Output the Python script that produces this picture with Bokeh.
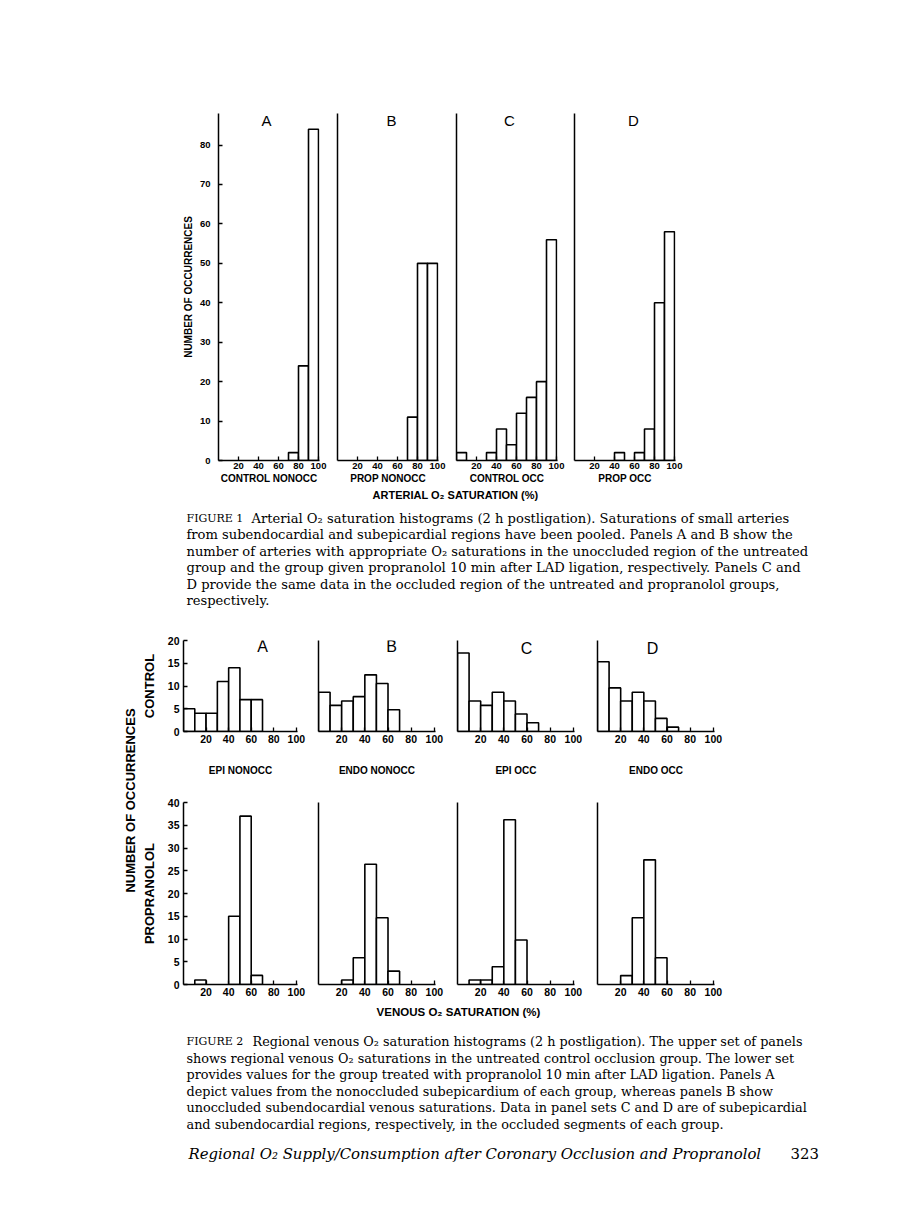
from bokeh.plotting import figure
from bokeh.layouts import column, row
from bokeh.models import Range1d, FixedTicker, Spacer
from bokeh.core.properties import value
from bokeh.embed import file_html
from bokeh.resources import INLINE

SANS = "Liberation Sans"
SERIF = "DejaVu Serif"

# ---------------- data ----------------
bin_left = [0, 10, 20, 30, 40, 50, 60, 70, 80, 90]
bin_right = [10, 20, 30, 40, 50, 60, 70, 80, 90, 100]
x_ticks = [20, 40, 60, 80, 100]

fig1_letters = ["A", "B", "C", "D"]
fig1_groups = ["CONTROL NONOCC", "PROP NONOCC", "CONTROL OCC", "PROP OCC"]
fig1_control_nonocc = [0, 0, 0, 0, 0, 0, 0, 2, 24, 84]
fig1_prop_nonocc = [0, 0, 0, 0, 0, 0, 0, 11, 50, 50]
fig1_control_occ = [2, 0, 0, 2, 8, 4, 12, 16, 20, 56]
fig1_prop_occ = [0, 0, 0, 0, 2, 0, 2, 8, 40, 58]
fig1_y_ticks = [0, 10, 20, 30, 40, 50, 60, 70, 80]

fig2_letters = ["A", "B", "C", "D"]
fig2_regions = ["EPI NONOCC", "ENDO NONOCC", "EPI OCC", "ENDO OCC"]
fig2_control_epi_nonocc = [5, 4, 4, 11, 14, 7, 7, 0, 0, 0]
fig2_control_endo_nonocc = [9, 6, 7, 8, 13, 11, 5, 0, 0, 0]
fig2_control_epi_occ = [18, 7, 6, 9, 7, 4, 2, 0, 0, 0]
fig2_control_endo_occ = [16, 10, 7, 9, 7, 3, 1, 0, 0, 0]
fig2_prop_epi_nonocc = [0, 1, 0, 0, 15, 37, 2, 0, 0, 0]
fig2_prop_endo_nonocc = [0, 0, 1, 6, 27, 15, 3, 0, 0, 0]
fig2_prop_epi_occ = [0, 1, 1, 4, 37, 10, 0, 0, 0, 0]
fig2_prop_endo_occ = [0, 0, 2, 15, 28, 6, 0, 0, 0, 0]
fig2_control_y_ticks = [0, 5, 10, 15, 20]
fig2_prop_y_ticks = [0, 5, 10, 15, 20, 25, 30, 35, 40]

caption1 = [
    "Arterial O\u2082 saturation histograms (2 h postligation). Saturations of small arteries",
    "from subendocardial and subepicardial regions have been pooled. Panels A and B show the",
    "number of arteries with appropriate O\u2082 saturations in the unoccluded region of the untreated",
    "group and the group given propranolol 10 min after LAD ligation, respectively. Panels C and",
    "D provide the same data in the occluded region of the untreated and propranolol groups,",
    "respectively.",
]
caption2 = [
    "Regional venous O\u2082 saturation histograms (2 h postligation). The upper set of panels",
    "shows regional venous O\u2082 saturations in the untreated control occlusion group. The lower set",
    "provides values for the group treated with propranolol 10 min after LAD ligation. Panels A",
    "depict values from the nonoccluded subepicardium of each group, whereas panels B show",
    "unoccluded subendocardial venous saturations. Data in panel sets C and D are of subepicardial",
    "and subendocardial regions, respectively, in the occluded segments of each group.",
]
footer_text = "Regional O\u2082 Supply/Consumption after Coronary Occlusion and Propranolol"
page_number = "323"


# ---------------- helpers ----------------
def panel(counts, width, height, bl, br, bt, bb, y_end, x_end=101,
          y_ticks=None, y_label=None, x_label=None,
          tick_size="9px", xlabel_size="9.5px", ylabel_size="9.5px",
          x_tick_standoff=2, x_label_standoff=1,
          y_tick_standoff=9, y_label_standoff=3,
          letter=None, letter_xy=(50, 50), letter_size="15px"):
    p = figure(width=width, height=height,
               x_range=Range1d(0, x_end), y_range=Range1d(0, y_end),
               min_border_left=bl, min_border_right=br,
               min_border_top=bt, min_border_bottom=bb,
               toolbar_location=None, output_backend="svg", title=None)
    p.grid.visible = False
    p.outline_line_color = None
    p.background_fill_color = "white"
    p.border_fill_color = "white"

    left = [l for l, c in zip(bin_left, counts) if c > 0]
    right = [r for r, c in zip(bin_right, counts) if c > 0]
    top = [c for c in counts if c > 0]
    p.quad(left=left, right=right, bottom=0, top=top,
           fill_color="white", line_color="black", line_width=1.6)

    xa = p.xaxis[0]
    xa.ticker = FixedTicker(ticks=x_ticks)
    xa.major_tick_in = 4
    xa.major_tick_out = 0
    xa.minor_tick_line_color = None
    xa.axis_line_width = 1.5
    xa.major_tick_line_width = 1.3
    xa.major_label_text_font = SANS
    xa.major_label_text_font_style = "bold"
    xa.major_label_text_font_size = tick_size
    xa.major_label_text_color = "black"
    xa.major_label_standoff = x_tick_standoff
    if x_label:
        xa.axis_label = x_label
        xa.axis_label_text_font = SANS
        xa.axis_label_text_font_style = "bold"
        xa.axis_label_text_font_size = xlabel_size
        xa.axis_label_text_color = "black"
        xa.axis_label_standoff = x_label_standoff

    ya = p.yaxis[0]
    ya.axis_line_width = 1.5
    ya.minor_tick_line_color = None
    if y_ticks is not None:
        ya.ticker = FixedTicker(ticks=y_ticks)
        ya.major_tick_in = 4
        ya.major_tick_out = 0
        ya.major_tick_line_width = 1.3
        ya.major_label_text_font = SANS
        ya.major_label_text_font_style = "bold"
        ya.major_label_text_font_size = tick_size
        ya.major_label_text_color = "black"
        ya.major_label_standoff = y_tick_standoff
    else:
        ya.ticker = FixedTicker(ticks=[])
        ya.major_tick_line_color = None
    if y_label:
        ya.axis_label = y_label
        ya.axis_label_text_font = SANS
        ya.axis_label_text_font_style = "bold"
        ya.axis_label_text_font_size = ylabel_size
        ya.axis_label_text_color = "black"
        ya.axis_label_standoff = y_label_standoff

    if letter:
        p.text(x=[letter_xy[0]], y=[letter_xy[1]], text=[letter],
               text_font=value(SANS), text_font_size=value(letter_size),
               text_align="center", text_baseline="middle", text_color="black")
    return p


def text_canvas(x0, y0, w, h):
    p = figure(width=w, height=h,
               x_range=Range1d(x0, x0 + w), y_range=Range1d(-(y0 + h), -y0),
               x_axis_type=None, y_axis_type=None, min_border=0,
               toolbar_location=None, output_backend="svg", title=None)
    p.grid.visible = False
    p.outline_line_color = None
    p.background_fill_color = "white"
    p.border_fill_color = "white"
    return p


def put(p, x, y, txt, size, font=SERIF, style="normal", align="left", angle=0.0):
    p.text(x=[x], y=[-y], text=[txt], text_font=value(font),
           text_font_size=value(size), text_font_style=style,
           text_align=align, text_baseline="middle", angle=angle,
           text_color="black")


# ---------------- Figure 1 ----------------
F1_H = 480          # page y 8 .. 488
F1_Y_END = 88
fig1_counts = [fig1_control_nonocc, fig1_prop_nonocc, fig1_control_occ, fig1_prop_occ]
fig1_geom = [(320, 210, 9), (118, 9, 8), (119, 10, 8), (119, 9, 9)]  # width, bl, br
fig1_letter_x = [48, 54, 53, 59]
fig1_panels = []
for i in range(4):
    w, bl, br = fig1_geom[i]
    fig1_panels.append(panel(
        fig1_counts[i], w, F1_H, bl, br, 105, 28, F1_Y_END,
        y_ticks=fig1_y_ticks if i == 0 else None,
        y_label="NUMBER OF OCCURRENCES" if i == 0 else None,
        x_label=fig1_groups[i],
        tick_size="9.5px", xlabel_size="10px", ylabel_size="10px",
        y_tick_standoff=8, y_label_standoff=3,
        letter=fig1_letters[i], letter_xy=(fig1_letter_x[i], 86.2),
        letter_size="15px"))
row1 = row(*fig1_panels, spacing=0)

# ---------------- text between figures ----------------
txt1 = text_canvas(8, 488, 882, 132)
put(txt1, 455, 494, "ARTERIAL O\u2082 SATURATION (%)", "11px", font=SANS,
    style="bold", align="center")
put(txt1, 186, 518, "FIGURE 1", "11px")
put(txt1, 251, 518, caption1[0], "13.1px")
for k, line in enumerate(caption1[1:], start=1):
    put(txt1, 186, 518 + 16.4 * k, line, "13.1px")

# ---------------- Figure 2 ----------------
left2 = text_canvas(8, 620, 130, 382)
put(left2, 130, 800, "NUMBER OF OCCURRENCES", "13px", font=SANS, style="bold",
    align="center", angle=1.5708)

top_counts = [fig2_control_epi_nonocc, fig2_control_endo_nonocc,
              fig2_control_epi_occ, fig2_control_endo_occ]
bot_counts = [fig2_prop_epi_nonocc, fig2_prop_endo_nonocc,
              fig2_prop_epi_occ, fig2_prop_endo_occ]
fig2_geom = [(169, 42, 10), (138, 11, 10), (140, 12, 11), (140, 12, 11)]
fig2_letter_x = [70, 63, 59.6, 47.5]
fig2_letter_y = [18.7, 19.4, 19.0, 19.0]
unit = 91 / 20.0

top_panels = []
bot_panels = []
for i in range(4):
    w, bl, br = fig2_geom[i]
    if i == 0:
        bt, fh = 20, 91
    else:
        bt, fh = 16, 95
    top_panels.append(panel(
        top_counts[i], w, 164, bl, br, bt, 164 - bt - fh, fh / unit, x_end=101,
        y_ticks=fig2_control_y_ticks if i == 0 else None,
        y_label="CONTROL" if i == 0 else None,
        x_label=fig2_regions[i],
        tick_size="10.5px", xlabel_size="10px", ylabel_size="13px",
        x_tick_standoff=3, x_label_standoff=19,
        y_tick_standoff=4, y_label_standoff=8,
        letter=fig2_letters[i], letter_xy=(fig2_letter_x[i], fig2_letter_y[i]),
        letter_size="16px"))
    if i == 0:
        bt, fh = 18, 182
    else:
        bt, fh = 14, 186
    bot_panels.append(panel(
        bot_counts[i], w, 218, bl, br, bt, 218 - bt - fh, fh / unit, x_end=101,
        y_ticks=fig2_prop_y_ticks if i == 0 else None,
        y_label="PROPRANOLOL" if i == 0 else None,
        tick_size="10.5px", ylabel_size="13px",
        x_tick_standoff=3, y_tick_standoff=4, y_label_standoff=8))

block2 = row(left2, column(row(*top_panels, spacing=0),
                           row(*bot_panels, spacing=0), spacing=0), spacing=0)

# ---------------- bottom text ----------------
txt2 = text_canvas(8, 1002, 882, 170)
put(txt2, 458, 1011, "VENOUS O\u2082 SATURATION (%)", "11.5px", font=SANS,
    style="bold", align="center")
put(txt2, 186, 1041, "FIGURE 2", "11px")
put(txt2, 252, 1041, caption2[0], "12.8px")
for k, line in enumerate(caption2[1:], start=1):
    put(txt2, 186, 1041 + 16.5 * k, line, "12.8px")
put(txt2, 188, 1153, footer_text, "14.9px", style="italic")
put(txt2, 790, 1153, page_number, "14.9px")

content = column(row1, txt1, block2, txt2, spacing=0)
root = row(Spacer(width=8), column(Spacer(height=8), content, spacing=0), spacing=0)

open("out.html", "w").write(file_html(root, INLINE))
